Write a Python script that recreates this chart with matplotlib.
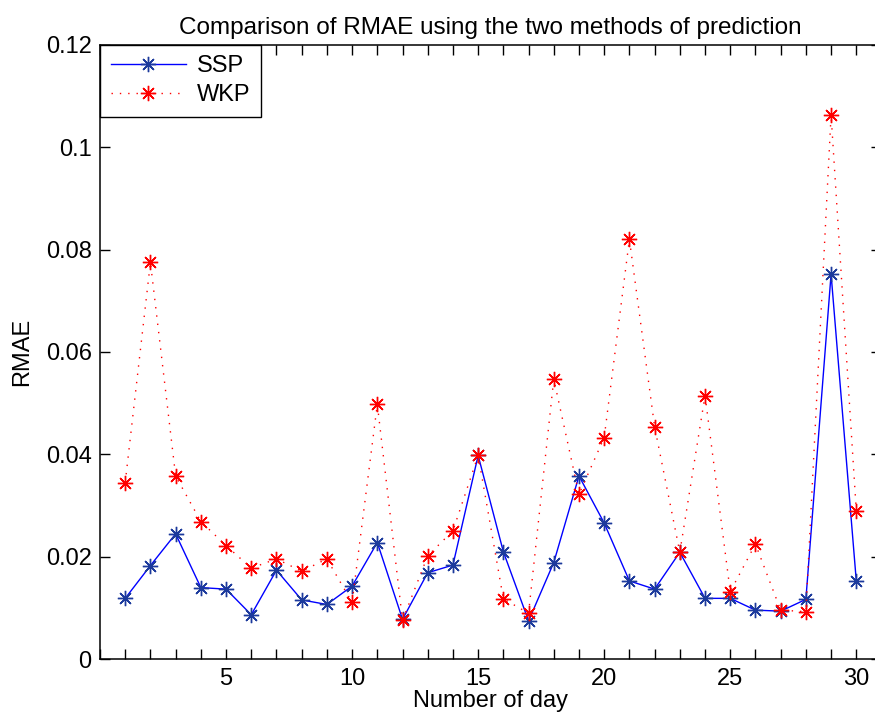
import matplotlib
matplotlib.use("Agg")
import matplotlib.pyplot as plt
from matplotlib.ticker import MultipleLocator

plt.rcParams['font.family'] = ['Liberation Sans', 'DejaVu Sans']

days = list(range(1, 31))

# RMAE
ssp = [0.0119, 0.0183, 0.0245, 0.0140, 0.0137, 0.0087, 0.0174, 0.0116, 0.0107, 0.0143,
       0.0228, 0.0078, 0.0169, 0.0184, 0.0398, 0.0210, 0.0075, 0.0189, 0.0358, 0.0266,
       0.0153, 0.0137, 0.0209, 0.0119, 0.0119, 0.0096, 0.0094, 0.0117, 0.0752, 0.0153]
wkp = [0.0345, 0.0775, 0.0358, 0.0269, 0.0222, 0.0178, 0.0196, 0.0172, 0.0196, 0.0111,
       0.0498, 0.0076, 0.0202, 0.0251, 0.0398, 0.0118, 0.0090, 0.0547, 0.0322, 0.0433,
       0.0820, 0.0454, 0.0209, 0.0515, 0.0132, 0.0225, 0.0096, 0.0093, 0.1063, 0.0290]

xticks = [5, 10, 15, 20, 25, 30]
yticks = [0, 0.02, 0.04, 0.06, 0.08, 0.1, 0.12]
ytick_labels = ['0', '0.02', '0.04', '0.06', '0.08', '0.1', '0.12']

fig = plt.figure(figsize=(8.75, 7.24), dpi=100)
ax = fig.add_axes([100 / 875, 64.7 / 724, 781.5 / 875, 614.6 / 724])

star = (8, 2, 0)
ax.plot(days, ssp, color='#0000ff', lw=1.0, marker=star, markersize=11,
        markeredgecolor='#1c3a9c', markeredgewidth=1.0, label='SSP')
ax.plot(days, wkp, color='#ff0000', lw=1.0, linestyle=(0, (1, 5)), marker=star,
        markersize=11, markeredgecolor='#ff0000', markeredgewidth=1.0, label='WKP')

ax.set_xlim(0, 31)
ax.set_ylim(0, 0.12)
ax.set_xticks(xticks)
ax.xaxis.set_minor_locator(MultipleLocator(1))
ax.set_yticks(yticks)
ax.set_yticklabels(ytick_labels)

ax.tick_params(which='both', direction='in', top=True, right=True,
               length=7, width=1, labelsize=17, pad=6)
for s in ax.spines.values():
    s.set_linewidth(1.1)

ax.set_title('Comparison of RMAE using the two methods of prediction', fontsize=17.5, pad=8)
ax.set_xlabel('Number of day', fontsize=17, labelpad=0)
ax.set_ylabel('RMAE', fontsize=17, labelpad=9)

leg = ax.legend(loc='upper left', borderaxespad=0, fontsize=17, fancybox=False,
                edgecolor='black', framealpha=1, handlelength=3.2, handletextpad=0.45,
                borderpad=0.45, labelspacing=0.3)
leg.get_frame().set_linewidth(1.0)

fig.savefig('out.png', dpi=100)
